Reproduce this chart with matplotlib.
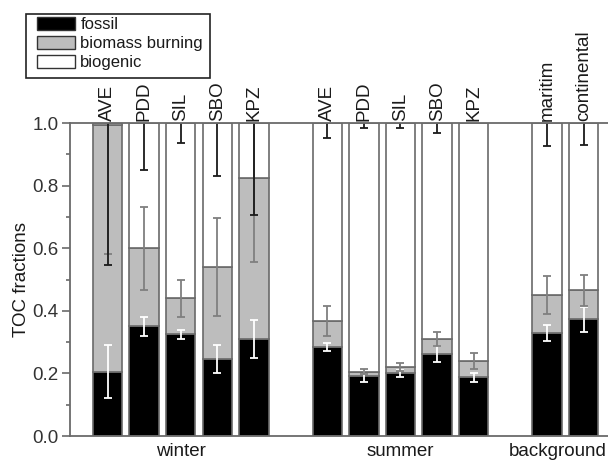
import numpy as np
import matplotlib
matplotlib.use("Agg")
import matplotlib.pyplot as plt
from matplotlib.patches import Patch, Rectangle

plt.rcParams['font.family'] = ['Liberation Sans', 'DejaVu Sans']

# stations, grouped by season / background
sites = ["AVE", "PDD", "SIL", "SBO", "KPZ",
         "AVE", "PDD", "SIL", "SBO", "KPZ",
         "maritim", "continental"]
groups = ["winter", "summer", "background"]
group_sizes = [5, 5, 2]

fossil = [0.205, 0.35, 0.325, 0.245, 0.31,
          0.285, 0.192, 0.20, 0.262, 0.188,
          0.33, 0.373]
biomass = [0.79, 0.25, 0.115, 0.295, 0.515,
           0.083, 0.013, 0.021, 0.047, 0.052,
           0.12, 0.093]
fossil_err = [0.085, 0.03, 0.015, 0.045, 0.06,
              0.013, 0.018, 0.01, 0.025, 0.014,
              0.025, 0.04]
biomass_err = [0.415, 0.133, 0.06, 0.158, 0.27,
               0.047, 0.008, 0.013, 0.022, 0.025,
               0.06, 0.05]
biogenic_err = [0.455, 0.15, 0.065, 0.17, 0.295,
                0.048, 0.016, 0.015, 0.033, 0.0,
                0.072, 0.07]

fossil = np.array(fossil)
biomass = np.array(biomass)
biogenic = 1 - fossil - biomass

# bar positions: one empty slot between groups
x = []
centers = []
start = 0
for n in group_sizes:
    x.extend(range(start, start + n))
    centers.append(start + (n - 1) / 2)
    start += n + 1
x = np.array(x, dtype=float)
centers[-1] -= 0.2  # keep "background" inside the picture

fig = plt.figure(figsize=(6.08, 4.63), dpi=100)
ax = fig.add_axes([0.1151, 0.0583, 0.905, 0.676])

edge = "#6a6a6a"
w = 0.8
ax.bar(x, fossil, w, color="black", edgecolor=edge, linewidth=1.2)
ax.bar(x, biomass, w, bottom=fossil, color="#bdbdbd", edgecolor=edge, linewidth=1.2)
ax.bar(x, biogenic, w, bottom=fossil + biomass, color="white", edgecolor=edge, linewidth=1.2)

ekw = dict(fmt="none", capsize=3, elinewidth=1.3, capthick=1.3)
ax.errorbar(x, fossil, yerr=fossil_err, ecolor="white", **ekw)
ax.errorbar(x, fossil + biomass, yerr=biomass_err, ecolor="#7f7f7f", **ekw)
m = np.array(biogenic_err) > 0
ax.errorbar(x[m], np.ones(m.sum()), yerr=np.array(biogenic_err)[m], ecolor="#1a1a1a", **ekw)

for xi, s in zip(x, sites):
    ax.text(xi, 1.008, s, rotation=90, ha="center", va="bottom", fontsize=13.5,
            color="#1a1a1a", clip_on=False)

ax.set_xlim(-1.025, 14.0)
ax.set_ylim(0, 1.0)
ax.set_xticks(centers)
ax.set_xticklabels(groups, fontsize=13.5, color="#1a1a1a")
ax.tick_params(axis="x", length=0, pad=5)
ax.set_yticks(np.arange(0, 1.01, 0.2))
ax.set_yticks(np.arange(0.1, 1.0, 0.2), minor=True)
ax.set_yticklabels([f"{v:.1f}" for v in np.arange(0, 1.01, 0.2)], fontsize=13.5, color="#333333")
ax.tick_params(axis="y", which="major", length=6, width=1.2, color=edge, direction="out", pad=2)
ax.tick_params(axis="y", which="minor", length=3, width=1.2, color=edge, direction="out")
ax.set_ylabel("TOC fractions", fontsize=13.5, labelpad=2, color="#1a1a1a")
for sp in ax.spines.values():
    sp.set_color(edge)
    sp.set_linewidth(1.3)

handles = [Patch(facecolor="black", edgecolor="#333333", label="fossil"),
           Patch(facecolor="#bdbdbd", edgecolor="#333333", label="biomass burning"),
           Patch(facecolor="white", edgecolor="#333333", label="biogenic")]
leg = fig.legend(handles=handles, loc="upper left", bbox_to_anchor=(37 / 608, 1 - 17 / 463),
                 fontsize=12, frameon=False,
                 handlelength=2.3, handleheight=0.85, handletextpad=0.3,
                 labelspacing=0.2, borderpad=0, borderaxespad=0)
for t in leg.get_texts():
    t.set_color("#1a1a1a")
fig.add_artist(Rectangle((26 / 608, 1 - 78 / 463), 184 / 608, 64 / 463,
                         transform=fig.transFigure, fill=False,
                         edgecolor="#222222", linewidth=1.2))

fig.savefig("out.png", dpi=100)
